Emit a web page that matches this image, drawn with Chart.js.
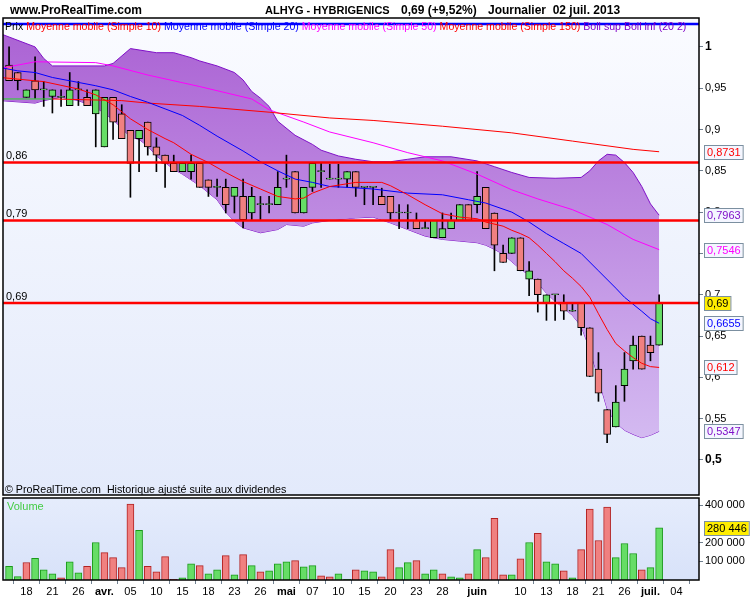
<!DOCTYPE html>
<html>
<head>
<meta charset="utf-8">
<script src="https://cdn.jsdelivr.net/npm/chart.js@4.4.1/dist/chart.umd.min.js"></script>
<style>
  body { margin: 0; width: 750px; height: 600px; position: relative; overflow: hidden; background: #fff;
         font-family: 'Liberation Sans', Arial, sans-serif; }
  canvas { position: absolute; left: 0; }
  .t { position: absolute; white-space: nowrap; line-height: 14px; }
  .h { font-weight: bold; font-size: 12px; top: 3px; color: #000; }
</style>
</head>
<body>
<canvas id="price" width="750" height="497" style="top:0"></canvas>
<canvas id="volume" width="750" height="103" style="top:497px"></canvas>

<div class="t h" style="left:10px">www.ProRealTime.com</div>
<div class="t h" style="left:265px;font-size:11px">ALHYG - HYBRIGENICS</div>
<div class="t h" style="left:401px">0,69 (+9,52%)</div>
<div class="t h" style="left:488px">Journalier&nbsp; 02 juil. 2013</div>
<div class="t" style="left:5px;top:19px;font-size:10.6px">
  <span style="color:#000">Prix</span>
  <span style="color:#ff0000">Moyenne mobile (Simple 10)</span>
  <span style="color:#0000ff">Moyenne mobile (Simple 20)</span>
  <span style="color:#ff00ff">Moyenne mobile (Simple 50)</span>
  <span style="color:#ff0000">Moyenne mobile (Simple 150)</span>
  <span style="color:#8000c8">Boll sup Boll inf (20 2)</span>
</div>
<div class="t" style="left:5px;top:482px;font-size:10.7px;color:#000">© ProRealTime.com&nbsp; Historique ajusté suite aux dividendes</div>
<div class="t" style="left:7px;top:499px;font-size:11px;color:#44cc44">Volume</div>

<script>
// trading sessions, 2013
const dates = [
  '03-14','03-15','03-18','03-19','03-20','03-21','03-22','03-25','03-26','03-27','03-28',
  '04-02','04-03','04-04','04-05','04-08','04-09','04-10','04-11','04-12','04-15','04-16','04-17','04-18','04-19','04-22','04-23','04-24','04-25','04-26','04-29','04-30',
  '05-02','05-03','05-06','05-07','05-08','05-09','05-10','05-13','05-14','05-15','05-16','05-17','05-20','05-21','05-22','05-23','05-24','05-27','05-28','05-29','05-30','05-31',
  '06-03','06-04','06-05','06-06','06-07','06-10','06-11','06-12','06-13','06-14','06-17','06-18','06-19','06-20','06-21','06-24','06-25','06-26','06-27','06-28',
  '07-01','07-02'
];
const futureDates = ['07-03', '07-04'];

const open = [0.978,0.969,0.939,0.959,0.948,0.940,0.939,0.929,0.948,0.939,
  0.919,0.879,0.939,0.919,0.899,0.889,0.909,0.879,0.869,0.859,
  0.849,0.849,0.859,0.839,0.830,0.830,0.819,0.819,0.799,0.809,
  0.809,0.809,0.840,0.849,0.799,0.830,0.849,0.840,0.840,0.840,
  0.849,0.830,0.830,0.819,0.819,0.799,0.799,0.790,0.780,0.769,
  0.769,0.780,0.790,0.809,0.809,0.830,0.799,0.750,0.750,0.769,
  0.719,0.719,0.690,0.700,0.690,0.680,0.690,0.660,0.610,0.561,
  0.540,0.590,0.620,0.650,0.639,0.639];
const high = [1.000,0.969,0.948,0.988,0.958,0.948,0.948,0.969,0.958,0.948,
  0.948,0.939,0.939,0.930,0.899,0.899,0.909,0.890,0.869,0.869,
  0.859,0.869,0.859,0.839,0.840,0.840,0.830,0.840,0.830,0.819,
  0.819,0.849,0.869,0.849,0.830,0.859,0.859,0.858,0.858,0.849,
  0.849,0.830,0.830,0.829,0.819,0.809,0.809,0.799,0.790,0.790,
  0.799,0.799,0.809,0.809,0.849,0.830,0.799,0.760,0.769,0.769,
  0.740,0.719,0.700,0.700,0.700,0.690,0.690,0.660,0.630,0.561,
  0.590,0.630,0.650,0.650,0.650,0.700];
const low = [0.959,0.948,0.939,0.938,0.928,0.920,0.928,0.929,0.929,0.929,
  0.879,0.879,0.888,0.889,0.818,0.849,0.869,0.849,0.830,0.849,
  0.849,0.840,0.830,0.819,0.819,0.799,0.799,0.781,0.791,0.791,
  0.799,0.809,0.830,0.799,0.799,0.825,0.830,0.840,0.830,0.830,
  0.819,0.809,0.809,0.809,0.790,0.780,0.780,0.780,0.780,0.769,
  0.769,0.780,0.790,0.790,0.799,0.780,0.729,0.739,0.750,0.729,
  0.699,0.679,0.669,0.669,0.670,0.680,0.651,0.601,0.571,0.521,
  0.540,0.571,0.610,0.610,0.620,0.639];
const close = [0.959,0.959,0.948,0.948,0.948,0.948,0.939,0.948,0.948,0.929,
  0.948,0.939,0.909,0.889,0.859,0.899,0.879,0.869,0.859,0.849,
  0.859,0.859,0.830,0.830,0.830,0.809,0.830,0.791,0.819,0.809,
  0.809,0.830,0.840,0.799,0.830,0.859,0.849,0.840,0.840,0.849,
  0.830,0.830,0.830,0.809,0.799,0.799,0.799,0.780,0.780,0.790,
  0.780,0.790,0.809,0.790,0.819,0.780,0.760,0.739,0.769,0.729,
  0.729,0.700,0.700,0.700,0.680,0.680,0.660,0.601,0.581,0.531,
  0.570,0.610,0.639,0.610,0.630,0.690];
const volume = [73000,18000,94000,116000,55000,33000,11000,98000,38000,73000,
  201000,147000,120000,66000,407000,266000,73000,44000,125000,3000,
  11000,87000,77000,33000,55000,131000,28000,136000,77000,44000,
  49000,87000,98000,104000,71000,77000,22000,17000,33000,3000,
  55000,49000,44000,17000,163000,66000,93000,104000,33000,55000,
  33000,17000,11000,33000,163000,120000,331000,28000,28000,114000,
  201000,250000,98000,87000,49000,11000,163000,380000,212000,391000,
  120000,196000,142000,55000,66000,280446];

// indicators as [session index, value]
const ma10 = [[-1,0.963],[0,0.962],[4,0.958],[8,0.949],[10,0.942],[12,0.930],[14,0.913],[16,0.900],[18,0.889],[19,0.884],
  [21,0.870],[23,0.860],[25,0.848],[27,0.837],[29,0.828],[31,0.819],[33,0.816],[34,0.817],[35,0.823],[37,0.831],[40,0.836],
  [43,0.836],[44,0.832],[46,0.821],[48,0.809],[50,0.798],[52,0.794],[54,0.792],[55,0.788],[57,0.783],[58,0.778],[59,0.774],
  [60,0.769],[61,0.760],[62,0.750],[63,0.740],[64,0.729],[65,0.720],[66,0.710],[67,0.697],[68,0.677],[69,0.658],[70,0.641],
  [71,0.632],[72,0.624],[73,0.617],[74,0.613],[75,0.612]];
const ma20 = [[-1,0.975],[1,0.971],[3,0.969],[5,0.963],[8,0.957],[10,0.953],[12,0.948],[14,0.940],[16,0.933],[18,0.925],
  [20,0.917],[22,0.905],[24,0.892],[27,0.874],[29,0.861],[31,0.850],[33,0.840],[35,0.836],[37,0.831],[39,0.830],[42,0.828],
  [46,0.823],[50,0.821],[53,0.815],[55,0.811],[58,0.800],[60,0.788],[62,0.774],[64,0.762],[66,0.750],[68,0.729],[70,0.708],
  [71,0.697],[73,0.680],[74,0.671],[75,0.6655]];
const ma50 = [[-1,0.974],[3,0.982],[10,0.981],[12,0.977],[16,0.966],[22,0.952],[28,0.937],[30,0.924],[34,0.909],[37,0.897],
  [42,0.884],[46,0.872],[50,0.862],[54,0.846],[58,0.827],[61,0.816],[65,0.803],[69,0.785],[72,0.767],[75,0.7546]];
const ma150 = [[-1,0.937],[5,0.937],[9,0.936],[13,0.935],[16,0.932],[22,0.928],[30,0.921],[37,0.914],[42,0.911],[50,0.904],
  [58,0.896],[65,0.886],[72,0.876],[75,0.8731]];
const bollSup = [[-1,1.016],[0,1.012],[3,1.000],[4,0.986],[5,0.977],[11,0.977],[12,0.980],[14,0.998],[17,0.993],[19,0.993],
  [21,0.987],[22,0.983],[24,0.977],[26,0.969],[27,0.960],[28,0.946],[29,0.938],[30,0.928],[31,0.910],[33,0.893],[35,0.882],
  [36,0.875],[38,0.868],[40,0.864],[42,0.861],[44,0.861],[46,0.864],[48,0.867],[51,0.867],[54,0.862],[56,0.855],[58,0.848],
  [60,0.842],[63,0.841],[66,0.842],[67,0.850],[68,0.862],[69,0.870],[70,0.869],[71,0.860],[72,0.848],[73,0.831],[74,0.810],
  [75,0.7963]];
const bollInf = [[-1,0.935],[3,0.932],[4,0.935],[6,0.939],[8,0.935],[10,0.927],[12,0.912],[14,0.891],[15,0.888],[16,0.880],
  [17,0.868],[19,0.852],[20,0.846],[22,0.832],[24,0.815],[25,0.800],[26,0.789],[27,0.781],[29,0.775],[31,0.779],[32,0.785],
  [34,0.783],[35,0.787],[37,0.790],[40,0.793],[42,0.794],[44,0.787],[46,0.779],[48,0.771],[50,0.767],[52,0.765],[54,0.763],
  [55,0.760],[56,0.755],[57,0.749],[58,0.740],[59,0.731],[60,0.724],[61,0.714],[62,0.702],[63,0.692],[64,0.684],[65,0.675],
  [66,0.662],[67,0.634],[68,0.598],[69,0.562],[70,0.545],[71,0.536],[72,0.531],[73,0.527],[74,0.530],[75,0.5347]];

const levels = [0.86, 0.79, 0.69];
const priceTicks = [0.5, 0.55, 0.6, 0.65, 0.7, 0.75, 0.8, 0.85, 0.9, 0.95, 1];
const volumeTicks = [100000, 200000, 400000];
const xTickDates = ['03-18','03-21','03-26','04-02','04-05','04-10','04-15','04-18','04-23','04-26','05-02','05-07','05-10',
  '05-15','05-20','05-23','05-28','06-03','06-10','06-13','06-18','06-21','06-26','07-01','07-04'];
const xTickText = ['18','21','26','avr.','05','10','15','18','23','26','mai','07','10','15','20','23','28','juin','10','13',
  '18','21','26','juil.','04'];

const FONT = "'Liberation Sans', Arial, sans-serif";
Chart.defaults.font.family = FONT;
Chart.defaults.font.size = 11;
Chart.defaults.color = '#000';

const GREEN = '#66dd66', RED = '#f08080';
const allDates = dates.concat(futureDates);
const xTickIdx = xTickDates.map(d => allDates.indexOf(d));
const pts = arr => arr.map(([x, y]) => ({ x, y }));
const comma = v => String(v).replace('.', ',');
const spaced = v => String(Math.round(v)).replace(/\B(?=(\d{3})+(?!\d))/g, ' ');
const last = arr => arr[arr.length - 1][1];

const xScale = (show) => ({
  type: 'linear', min: -0.7, max: 79.6, offset: false, display: show,
  afterBuildTicks: (s) => { s.ticks = xTickIdx.map(v => ({ value: v })); },
  afterFit: (s) => { s.height = show ? 20 : 0; s.paddingLeft = 0; s.paddingRight = 0; },
  ticks: {
    autoSkip: false, maxRotation: 0, padding: 1,
    callback: (v) => xTickText[xTickIdx.indexOf(v)],
    font: (c) => ({ size: 11, weight: /[a-z]/.test(xTickText[xTickIdx.indexOf(c.tick && c.tick.value)] || '') ? 'bold' : 'normal' })
  },
  grid: { drawOnChartArea: false, tickLength: 4, tickColor: '#708090' },
  border: { display: false }
});

const yFit = (s) => { s.width = 51; s.paddingTop = 0; s.paddingBottom = 0; };

const panelPlugin = {
  id: 'panel',
  beforeDraw(chart, args, opts) {
    const { ctx, chartArea: a } = chart;
    const g = ctx.createLinearGradient(0, a.top, 0, a.bottom);
    g.addColorStop(0, opts.top);
    g.addColorStop(1, opts.bottom);
    ctx.save();
    ctx.fillStyle = g;
    ctx.fillRect(a.left, a.top, a.right - a.left, a.bottom - a.top);
    ctx.restore();
  },
  afterDraw(chart, args, opts) {
    const { ctx, chartArea: a } = chart;
    ctx.save();
    ctx.font = '11px ' + FONT;
    ctx.textBaseline = 'middle';
    (opts.tags || []).forEach(t => {
      const y = chart.scales.y.getPixelForValue(t.value);
      const w = ctx.measureText(t.text).width + 5;
      const top = Math.round(y - 7) + 0.5;
      ctx.fillStyle = t.bg || '#f4f6ff';
      ctx.fillRect(a.right + 5, top, w, 14);
      ctx.strokeStyle = '#7b8fa0';
      ctx.lineWidth = 1;
      ctx.strokeRect(a.right + 5.5, top, w, 14);
      ctx.fillStyle = t.color;
      ctx.fillText(t.text, a.right + 8, top + 7.5);
    });
    ctx.strokeStyle = '#000';
    ctx.lineWidth = 1.5;
    ctx.strokeRect(a.left, a.top, a.right - a.left, a.bottom - a.top);
    ctx.restore();
  }
};

const levelPlugin = {
  id: 'levels',
  afterDatasetsDraw(chart) {
    const { ctx, chartArea: a, scales: { y } } = chart;
    ctx.save();
    ctx.strokeStyle = '#0000ff';
    ctx.lineWidth = 2.5;
    ctx.beginPath();
    ctx.moveTo(a.left, a.top + 6);
    ctx.lineTo(a.right, a.top + 6);
    ctx.stroke();
    ctx.font = '11px ' + FONT;
    ctx.textBaseline = 'bottom';
    levels.forEach(v => {
      const py = y.getPixelForValue(v);
      ctx.strokeStyle = '#ff0000';
      ctx.lineWidth = 2.5;
      ctx.beginPath();
      ctx.moveTo(a.left, py);
      ctx.lineTo(a.right, py);
      ctx.stroke();
      ctx.fillStyle = '#000';
      ctx.fillText(comma(v), a.left + 3, py - 1);
    });
    ctx.restore();
  }
};

const bandFill = (c) => {
  const { ctx, chartArea: a } = c.chart;
  if (!a) return 'rgba(180,110,215,0.8)';
  const g = ctx.createLinearGradient(0, a.top, 0, a.bottom);
  g.addColorStop(0, 'rgb(170,96,211)');
  g.addColorStop(1, 'rgb(217,198,245)');
  return g;
};

const line = (data, color, order, extra) => Object.assign({
  type: 'line', data: pts(data), borderColor: color, borderWidth: 1, pointRadius: 0, tension: 0, order
}, extra || {});

new Chart(document.getElementById('price'), {
  type: 'bar',
  data: {
    datasets: [
      line(bollSup, '#8010c8', 6, { fill: '+1', backgroundColor: bandFill }),
      line(bollInf, '#8010c8', 6),
      {
        data: dates.map((d, i) => ({ x: i, y: [low[i], high[i]] })),
        backgroundColor: '#000', borderWidth: 0, barThickness: 1, grouped: false, order: 5
      },
      {
        data: dates.map((d, i) => ({ x: i, y: [open[i], close[i]] })),
        backgroundColor: (c) => close[c.dataIndex] >= open[c.dataIndex] ? GREEN : RED,
        borderColor: '#000', borderWidth: 1, borderSkipped: false, minBarLength: 1,
        barThickness: 7, grouped: false, order: 4
      },
      line(ma150, '#ff0000', 3, { segment: { borderColor: (c) => c.p1.parsed.x <= 5 ? '#22dd22' : '#ff0000' } }),
      line(ma50, '#ff00ff', 3),
      line(ma20, '#0000ff', 2),
      line(ma10, '#ff0000', 1)
    ]
  },
  options: {
    responsive: false,
    animation: false,
    layout: { padding: { left: 3, top: 18, right: 0, bottom: 2 } },
    plugins: {
      legend: { display: false },
      tooltip: { enabled: false },
      panel: {
        top: 'rgb(250,251,255)', bottom: 'rgb(227,234,251)',
        tags: [
          { value: last(ma150), text: comma(last(ma150)), color: '#ff0000' },
          { value: last(bollSup), text: comma(last(bollSup)), color: '#8010c8' },
          { value: last(ma50), text: comma(last(ma50)), color: '#ff00ff' },
          { value: close[close.length - 1], text: comma(close[close.length - 1]), color: '#000', bg: '#ffee00' },
          { value: last(ma20), text: comma(last(ma20)), color: '#0000ff' },
          { value: last(ma10), text: comma(last(ma10)), color: '#ff0000' },
          { value: last(bollInf), text: comma(last(bollInf)), color: '#8010c8' }
        ]
      }
    },
    scales: {
      x: xScale(false),
      y: {
        position: 'right', min: 0.4576, max: 1.035,
        afterFit: yFit,
        afterBuildTicks: (s) => { s.ticks = priceTicks.map(v => ({ value: v })); },
        ticks: {
          padding: 2,
          callback: (v) => comma(v),
          font: (c) => (c.tick && (c.tick.value === 1 || c.tick.value === 0.5)) ? { size: 12, weight: 'bold' } : { size: 11 }
        },
        grid: { drawOnChartArea: false, tickLength: 4, tickColor: '#708090' },
        border: { display: false }
      }
    }
  },
  plugins: [panelPlugin, levelPlugin]
});

new Chart(document.getElementById('volume'), {
  type: 'bar',
  data: {
    datasets: [{
      data: dates.map((d, i) => ({ x: i, y: volume[i] })),
      backgroundColor: (c) => (c.dataIndex === 0 || close[c.dataIndex] >= close[c.dataIndex - 1]) ? GREEN : RED,
      borderColor: (c) => (c.dataIndex === 0 || close[c.dataIndex] >= close[c.dataIndex - 1]) ? '#1a9a1a' : '#b22222',
      borderWidth: 1, barThickness: 7, grouped: false
    }]
  },
  options: {
    responsive: false,
    animation: false,
    layout: { padding: { left: 3, top: 1, right: 0, bottom: 0 } },
    plugins: {
      legend: { display: false },
      tooltip: { enabled: false },
      panel: {
        top: 'rgb(229,236,252)', bottom: 'rgb(216,226,249)',
        tags: [{ value: volume[volume.length - 1], text: spaced(volume[volume.length - 1]), color: '#000', bg: '#ffee00' }]
      }
    },
    scales: {
      x: xScale(true),
      y: {
        position: 'right', min: 0, max: 440000,
        afterFit: yFit,
        afterBuildTicks: (s) => { s.ticks = volumeTicks.map(v => ({ value: v })); },
        ticks: { padding: 2, callback: (v) => spaced(v) },
        grid: { drawOnChartArea: false, tickLength: 4, tickColor: '#708090' },
        border: { display: false }
      }
    }
  },
  plugins: [panelPlugin]
});
</script>
</body>
</html>
